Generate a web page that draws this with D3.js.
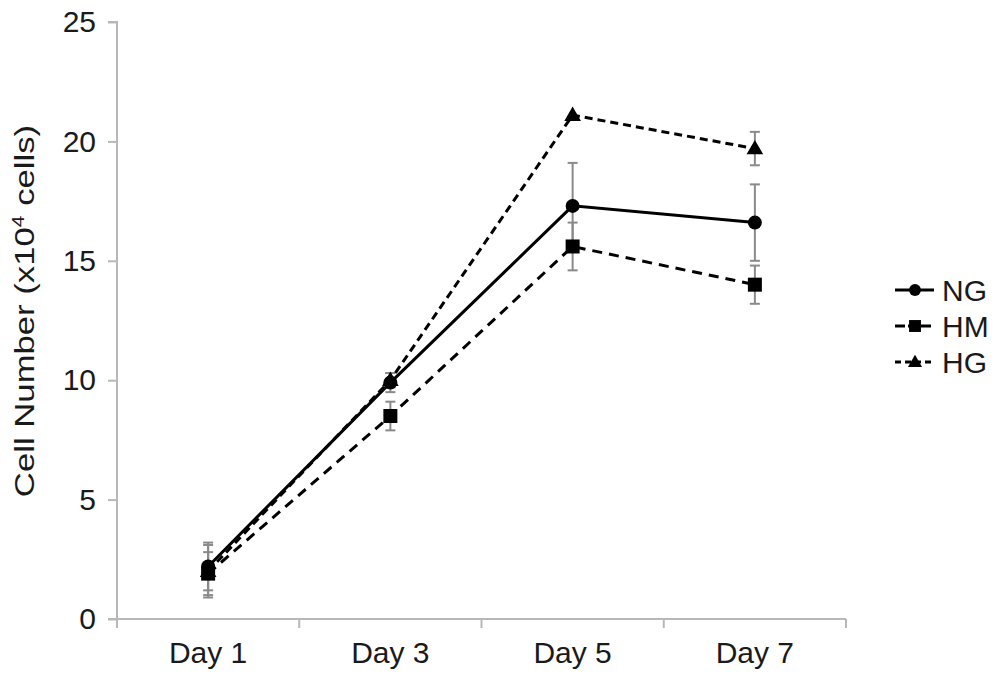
<!DOCTYPE html>
<html><head><meta charset="utf-8">
<script src="https://cdn.jsdelivr.net/npm/d3@7"></script>
<style>body{margin:0;background:#fff}svg{display:block}</style>
</head><body><svg id="c" width="1004" height="683"></svg>
<script>
const categories = ["Day 1","Day 3","Day 5","Day 7"];
const yTicks = [0,5,10,15,20,25];
const seriesNames = ["NG","HM","HG"];
const ngValues = [2.2, 9.9, 17.3, 16.6];
const ngErrors = [1.0, 0.4, 1.8, 1.6];
const hmValues = [1.9, 8.5, 15.6, 14.0];
const hmErrors = [0.9, 0.6, 1.0, 0.8];
const hgValues = [2.0, 10.0, 21.1, 19.7];
const hgErrors = [1.1, 0.3, 0.0, 0.7];

const series = [
  {name:"NG", values:ngValues, errors:ngErrors, dash:null, marker:"circle"},
  {name:"HM", values:hmValues, errors:hmErrors, dash:"10,7", marker:"square"},
  {name:"HG", values:hgValues, errors:hgErrors, dash:"8,5", marker:"triangle"}
];

const svg = d3.select("#c");
const m = {l:117, r:846, t:22, b:619};
const x = d3.scaleBand().domain(categories).range([m.l, m.r]).padding(0);
const y = d3.scaleLinear().domain([0,25]).range([m.b, m.t]);
const font = "Liberation Sans, Arial, sans-serif";
const txt = "#1a1a1a";

// axes
const yAxis = svg.append("g").attr("transform",`translate(${m.l},0)`)
  .call(d3.axisLeft(y).tickValues(yTicks).tickSize(9).tickPadding(12));
const xAxis = svg.append("g").attr("transform",`translate(0,${m.b})`)
  .call(d3.axisBottom(x).tickSize(0).tickPadding(23));
xAxis.selectAll(".tick").append("line")
  .attr("x1", -x.bandwidth()/2).attr("x2", -x.bandwidth()/2).attr("y1",0).attr("y2",9);
xAxis.append("line").attr("class","endtick").attr("x1",m.r).attr("x2",m.r).attr("y1",0).attr("y2",9);
[yAxis,xAxis].forEach(a=>{
  a.attr("font-family",font).attr("font-size",30);
  a.selectAll("line").attr("stroke","#b8b8b8").attr("stroke-width",2);
  a.selectAll("text").attr("font-family",font).attr("font-size",30).attr("fill",txt);
});
yAxis.select(".domain").attr("stroke","#b8b8b8").attr("stroke-width",2).attr("d",`M-9,${m.t}H0V${m.b}`);
xAxis.select(".domain").attr("stroke","#b8b8b8").attr("stroke-width",2).attr("d",`M${m.l-9},0H${m.r}`);

// y label
const yl = svg.append("text").attr("transform","translate(34,311) rotate(-90) scale(1.24,1)")
  .attr("text-anchor","middle").attr("font-family",font).attr("font-size",28).attr("fill",txt);
yl.append("tspan").text("Cell Number (x10");
yl.append("tspan").attr("font-size",17).attr("dy",-10).text("4");
yl.append("tspan").attr("dy",10).text(" cells)");

const cx = d => x(d) + x.bandwidth()/2;

// error bars
series.forEach(s=>{
  const g = svg.append("g");
  categories.forEach((c,i)=>{
    const e = s.errors[i]; if(!e) return;
    const v = s.values[i];
    g.append("line").attr("x1",cx(c)).attr("x2",cx(c)).attr("y1",y(v+e)).attr("y2",y(v-e))
      .attr("stroke","#8a8a8a").attr("stroke-width",2);
    [v+e,v-e].forEach(t=>g.append("line").attr("x1",cx(c)-5).attr("x2",cx(c)+5)
      .attr("y1",y(t)).attr("y2",y(t)).attr("stroke","#8a8a8a").attr("stroke-width",2));
  });
});

const line = d3.line().x((d,i)=>cx(categories[i])).y(d=>y(d));
function drawMarker(g, type, px, py, sc){
  sc = sc||1;
  if(type==="circle") g.append("circle").attr("cx",px).attr("cy",py).attr("r",7*sc).attr("fill","#000");
  else if(type==="square") g.append("rect").attr("x",px-7*sc).attr("y",py-7*sc).attr("width",14*sc).attr("height",14*sc).attr("fill","#000");
  else g.append("path").attr("d",d3.symbol(d3.symbolTriangle, 120*sc*sc)()).attr("transform",`translate(${px},${py+1})`).attr("fill","#000");
}
series.forEach(s=>{
  const g = svg.append("g");
  g.append("path").datum(s.values).attr("d",line).attr("fill","none").attr("stroke","#000")
    .attr("stroke-width",3).attr("stroke-dasharray",s.dash);
  s.values.forEach((v,i)=>drawMarker(g,s.marker,cx(categories[i]),y(v)));
});

// legend
series.forEach((s,i)=>{
  const ly = 290 + i*36;
  const g = svg.append("g");
  g.append("line").attr("x1",895).attr("x2",934).attr("y1",ly).attr("y2",ly).attr("stroke","#000")
    .attr("stroke-width",3).attr("stroke-dasharray", s.name==="NG"?null:(s.name==="HM"?"10,3":"6,4"));
  drawMarker(g,s.marker,915,ly,0.85);
  g.append("text").attr("x",942).attr("y",ly+11).attr("font-family",font).attr("font-size",30)
    .attr("fill",txt).text(s.name);
});
</script></body></html>
